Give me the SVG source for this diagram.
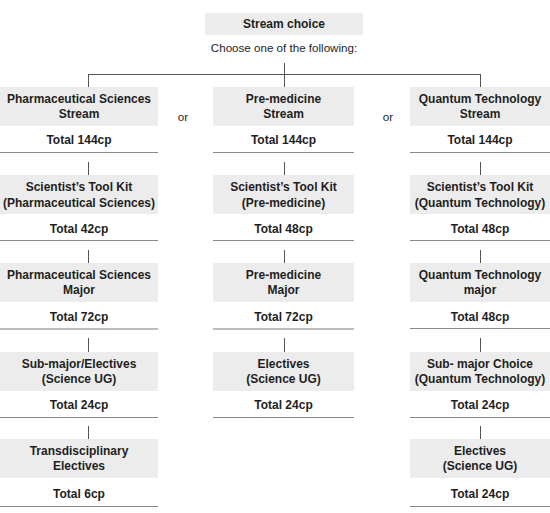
<svg xmlns="http://www.w3.org/2000/svg" width="550" height="513" viewBox="0 0 550 513">
<style>
.box{fill:#ececec}
.t{font-family:"Liberation Sans",Arial,sans-serif;font-size:12px;font-weight:bold;fill:#1e1e1e;text-anchor:middle}
.r{font-family:"Liberation Sans",Arial,sans-serif;font-size:11.6px;fill:#1e1e1e;text-anchor:middle}
.u{stroke:#8a8a8a;stroke-width:1.2;fill:none}
.u2{stroke:#bdbdbd;stroke-width:2.2;fill:none}
.c{stroke:#555;stroke-width:1;fill:none}
</style>
<rect width="550" height="513" fill="#fff"/>
<g id="connectors">
<path class="c" d="M284.5 63V87M88.5 74.5H480.5M88.5 74V87M480.5 74V87"/>
<path class="c" d="M88.5 162V175M88.5 250V263M88.5 338V352M88.5 426V439"/>
<path class="c" d="M284.5 162V175M284.5 250V263M284.5 338V352"/>
<path class="c" d="M480.5 162V175M480.5 250V263M480.5 338V352M480.5 426V439"/>
</g>
<g id="header">
<rect class="box" x="205" y="13" width="158" height="22"/>
<text class="t" x="284" y="28">Stream choice</text>
<text class="r" x="284" y="52">Choose one of the following:</text>
</g>
<g id="or1"><text class="r" x="183" y="121">or</text></g>
<g id="or2"><text class="r" x="388" y="121">or</text></g>
<g id="pharm-stream">
<rect class="box" x="0" y="87" width="158" height="39"/>
<text class="t" x="79" y="103">Pharmaceutical Sciences</text>
<text class="t" x="79" y="118">Stream</text>
<text class="t" x="79" y="144">Total 144cp</text>
<path class="u" d="M0 152.5H158"/>
</g>
<g id="pharm-stk">
<rect class="box" x="0" y="175" width="158" height="39"/>
<text class="t" x="79" y="191">Scientist’s Tool Kit</text>
<text class="t" x="79" y="207">(Pharmaceutical Sciences)</text>
<text class="t" x="79" y="233">Total 42cp</text>
<path class="u" d="M0 240.5H158"/>
</g>
<g id="pharm-major">
<rect class="box" x="0" y="263" width="158" height="39"/>
<text class="t" x="79" y="279">Pharmaceutical Sciences</text>
<text class="t" x="79" y="294">Major</text>
<text class="t" x="79" y="321">Total 72cp</text>
<path class="u2" d="M0 329H158"/>
</g>
<g id="pharm-submajor">
<rect class="box" x="0" y="352" width="158" height="39"/>
<text class="t" x="79" y="368">Sub-major/Electives</text>
<text class="t" x="79" y="383">(Science UG)</text>
<text class="t" x="79" y="409">Total 24cp</text>
<path class="u" d="M0 417.5H158"/>
</g>
<g id="pharm-trans">
<rect class="box" x="0" y="439" width="158" height="39"/>
<text class="t" x="79" y="455">Transdisciplinary</text>
<text class="t" x="79" y="470">Electives</text>
<text class="t" x="79" y="498">Total 6cp</text>
<path class="u" d="M0 506.5H158"/>
</g>
<g id="premed-stream">
<rect class="box" x="213" y="87" width="141" height="39"/>
<text class="t" x="283.5" y="103">Pre-medicine</text>
<text class="t" x="283.5" y="118">Stream</text>
<text class="t" x="283.5" y="144">Total 144cp</text>
<path class="u" d="M213 152.5H354"/>
</g>
<g id="premed-stk">
<rect class="box" x="213" y="175" width="141" height="39"/>
<text class="t" x="283.5" y="191">Scientist’s Tool Kit</text>
<text class="t" x="283.5" y="207">(Pre-medicine)</text>
<text class="t" x="283.5" y="233">Total 48cp</text>
<path class="u" d="M213 240.5H354"/>
</g>
<g id="premed-major">
<rect class="box" x="213" y="263" width="141" height="39"/>
<text class="t" x="283.5" y="279">Pre-medicine</text>
<text class="t" x="283.5" y="294">Major</text>
<text class="t" x="283.5" y="321">Total 72cp</text>
<path class="u2" d="M213 329H354"/>
</g>
<g id="premed-electives">
<rect class="box" x="213" y="352" width="141" height="39"/>
<text class="t" x="283.5" y="368">Electives</text>
<text class="t" x="283.5" y="383">(Science UG)</text>
<text class="t" x="283.5" y="409">Total 24cp</text>
<path class="u" d="M213 417.5H354"/>
</g>
<g id="quantum-stream">
<rect class="box" x="410" y="87" width="140" height="39"/>
<text class="t" x="480" y="103">Quantum Technology</text>
<text class="t" x="480" y="118">Stream</text>
<text class="t" x="480" y="144">Total 144cp</text>
<path class="u" d="M410 152.5H550"/>
</g>
<g id="quantum-stk">
<rect class="box" x="410" y="175" width="140" height="39"/>
<text class="t" x="480" y="191">Scientist’s Tool Kit</text>
<text class="t" x="480" y="207">(Quantum Technology)</text>
<text class="t" x="480" y="233">Total 48cp</text>
<path class="u" d="M410 240.5H550"/>
</g>
<g id="quantum-major">
<rect class="box" x="410" y="263" width="140" height="39"/>
<text class="t" x="480" y="279">Quantum Technology</text>
<text class="t" x="480" y="294">major</text>
<text class="t" x="480" y="321">Total 48cp</text>
<path class="u" d="M410 328.5H550"/>
</g>
<g id="quantum-submajor">
<rect class="box" x="410" y="352" width="140" height="39"/>
<text class="t" x="480" y="368">Sub- major Choice</text>
<text class="t" x="480" y="383">(Quantum Technology)</text>
<text class="t" x="480" y="409">Total 24cp</text>
<path class="u" d="M410 417.5H550"/>
</g>
<g id="quantum-electives">
<rect class="box" x="410" y="439" width="140" height="39"/>
<text class="t" x="480" y="455">Electives</text>
<text class="t" x="480" y="470">(Science UG)</text>
<text class="t" x="480" y="498">Total 24cp</text>
<path class="u" d="M410 506.5H550"/>
</g>
</svg>
